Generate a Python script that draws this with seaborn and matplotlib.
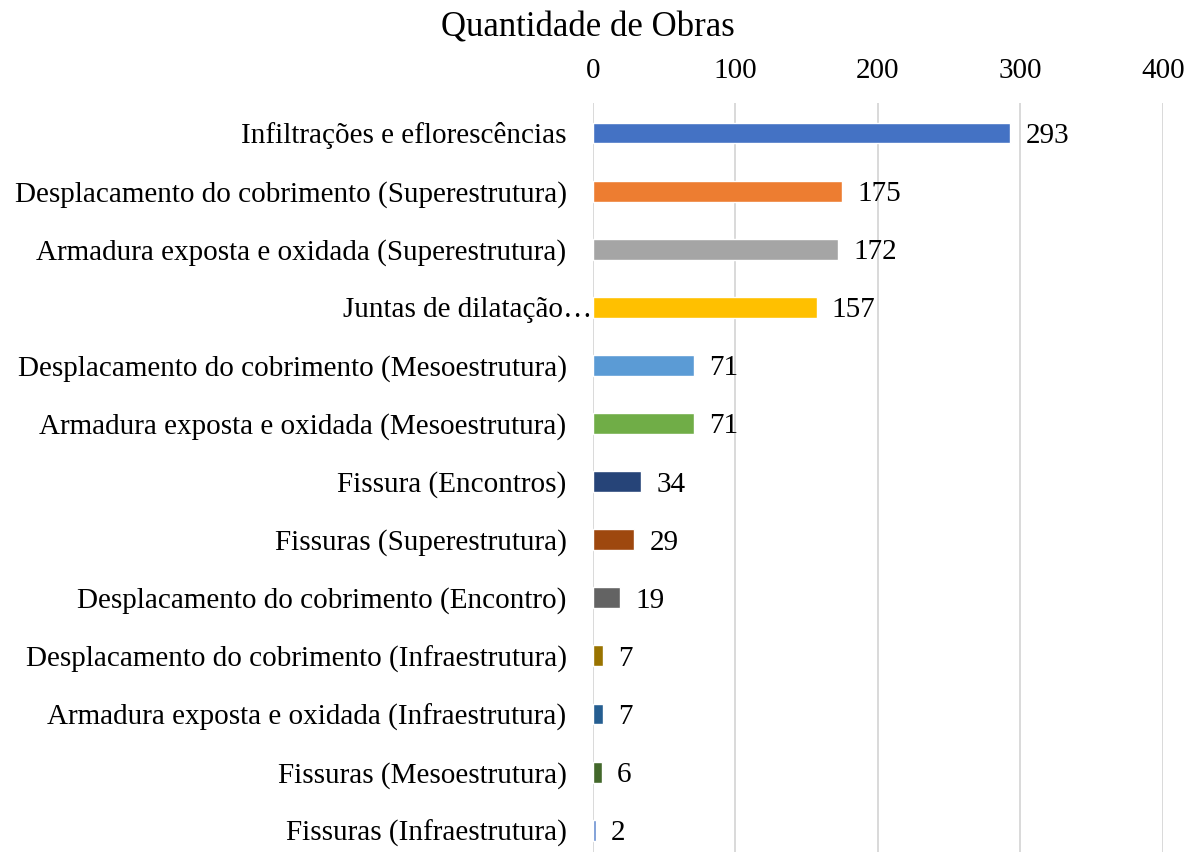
import matplotlib
matplotlib.use("Agg")
import matplotlib.pyplot as plt
import matplotlib.transforms as mtransforms
import seaborn as sns
import pandas as pd

categories = [
    "Infiltrações e eflorescências",
    "Desplacamento do cobrimento (Superestrutura)",
    "Armadura exposta e oxidada (Superestrutura)",
    "Juntas de dilatação…",
    "Desplacamento do cobrimento (Mesoestrutura)",
    "Armadura exposta e oxidada (Mesoestrutura)",
    "Fissura (Encontros)",
    "Fissuras (Superestrutura)",
    "Desplacamento do cobrimento (Encontro)",
    "Desplacamento do cobrimento (Infraestrutura)",
    "Armadura exposta e oxidada (Infraestrutura)",
    "Fissuras (Mesoestrutura)",
    "Fissuras (Infraestrutura)",
]
values = [293, 175, 172, 157, 71, 71, 34, 29, 19, 7, 7, 6, 2]
colors = ["#4472C4", "#ED7D31", "#A5A5A5", "#FFC000", "#5B9BD5", "#70AD47",
          "#264478", "#9E480E", "#636363", "#997300", "#255E91", "#43682B",
          "#698ED0"]
x_ticks = [0, 100, 200, 300, 400]
title = "Quantidade de Obras"

sns.set_theme(style="white")
plt.rcParams["font.family"] = ["Liberation Serif", "DejaVu Serif"]

FS = 21

df = pd.DataFrame({"categoria": categories, "obras": values})

fig = plt.figure(figsize=(11.96, 8.52), dpi=100)
ax = fig.add_axes([0.4958, 0.0, 0.4764, 0.8791])

sns.barplot(data=df, y="categoria", x="obras", hue="categoria",
            palette=colors, orient="h", width=0.36, legend=False,
            saturation=1, ax=ax)

ax.set_xlim(0, 400)
ax.set_ylim(12.375, -0.516)
ax.set_xticks(x_ticks)
ax.xaxis.tick_top()
ax.tick_params(axis="x", length=0, pad=14, labelsize=FS, colors="black")
ax.tick_params(axis="y", length=0, pad=19, labelsize=FS, colors="black")
ax.set_xlabel("")
ax.set_ylabel("")
for s in ax.spines.values():
    s.set_visible(False)
ax.grid(axis="x", color="#D9D9D9", linewidth=1.4)
ax.set_axisbelow(True)

# the truncated category label sits flush against the axis
for lbl in ax.get_yticklabels():
    if lbl.get_text().endswith("…"):
        lbl.set_transform(lbl.get_transform() +
                          mtransforms.ScaledTranslation(26 / 100, 0, fig.dpi_scale_trans))

for i, v in enumerate(values):
    ax.annotate(str(v), xy=(v, i), xytext=(11, 0), textcoords="offset points",
                va="center_baseline", ha="left", fontsize=FS, color="black")

fig.text(0.4916, 1 - 28 / 852, title, ha="center", va="center",
         fontsize=25, color="black")

fig.savefig("out.png", dpi=100)
